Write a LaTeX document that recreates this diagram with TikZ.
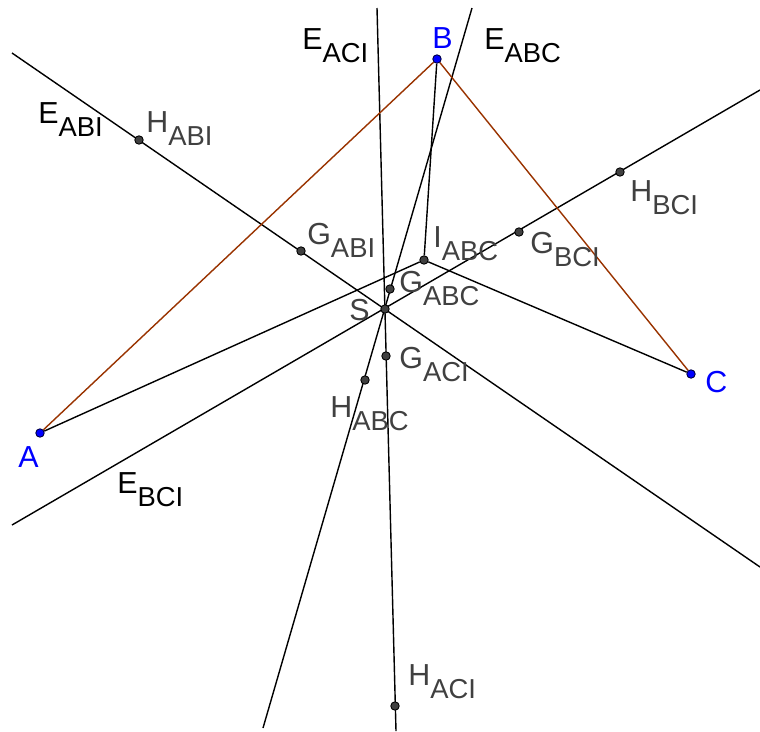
\documentclass[tikz,border=0pt]{standalone}
\usepackage{fontspec}
\setmainfont{Liberation Sans}
\usepackage{xcolor}
\usetikzlibrary{backgrounds}
\definecolor{geobrown}{HTML}{993300}
\definecolor{geoblue}{HTML}{0000FF}
\definecolor{geogray}{HTML}{404040}
\definecolor{geodark}{HTML}{000040}
\newcommand{\glab}[2]{#1\raisebox{-7.9pt}{\fontsize{15.6}{17}\selectfont #2}}

\begin{document}
\begin{tikzpicture}[
    x=0.02cm, y=-0.02cm,
    lbl/.style={anchor=base west, inner sep=0pt, font=\fontsize{17.3}{19}\selectfont},
    ptlbl/.style={lbl, text=geogray},
    vxlbl/.style={lbl, text=geoblue},
    pt/.style={circle, draw=black, fill=geogray, line width=0.5pt, inner sep=0pt, minimum size=4.8pt},
    vx/.style={pt, fill=geoblue, draw=geodark},
    ln/.style={line width=0.8pt, draw=black},
    tri/.style={line width=0.8pt, draw=geobrown}
]
    \useasboundingbox (0,0) rectangle (760,731);

    % Vertices
    \node (A) [vx] at (40,433) {};
    \node (B) [vx] at (437,59) {};
    \node (C) [vx] at (691,374) {};

    % Points
    \node (I)    [pt] at (424,260) {};
    \node (S)    [pt] at (385,309) {};
    \node (gabc) [pt] at (390,289) {};
    \node (gaci) [pt] at (386,356) {};
    \node (gabi) [pt] at (301,251) {};
    \node (gbci) [pt] at (519,232) {};
    \node (habc) [pt] at (365,380) {};
    \node (hbci) [pt] at (620,172) {};
    \node (habi) [pt] at (139,140) {};
    \node (haci) [pt] at (395,706) {};

    % Line ends
    \coordinate (eabi1) at (12,53);
    \coordinate (eabi2) at (760,567);
    \coordinate (eaci1) at (377,8);
    \coordinate (eaci2) at (396,731);
    \coordinate (eabc1) at (472,8);
    \coordinate (eabc2) at (263,728);
    \coordinate (ebci1) at (12,525);
    \coordinate (ebci2) at (760,90);

    % Lines
    \begin{scope}[on background layer]
        \draw [ln] (eabi1) -- (eabi2);
        \draw [ln] (eaci1) -- (eaci2);
        \draw [ln] (eabc1) -- (eabc2);
        \draw [ln] (ebci1) -- (ebci2);
        \draw [ln] (A) -- (I);
        \draw [ln] (B) -- (I);
        \draw [ln] (C) -- (I);
        \draw [tri] (A) -- (B) -- (C) -- cycle;
    \end{scope}

    % Labels
    \node (lA) [vxlbl] at (18,467) {A};
    \node (lB) [vxlbl] at (432,48) {B};
    \node (lC) [vxlbl] at (705,392) {C};
    \node (lS) [ptlbl] at (349,320) {S};
    \node (lI)    [ptlbl] at (433,247) {\glab{I}{ABC}};
    \node (lgabi) [ptlbl] at (307,244) {\glab{G}{ABI}};
    \node (lgabc) [ptlbl] at (399,292) {\glab{G}{ABC}};
    \node (lgaci) [ptlbl] at (399,368) {\glab{G}{ACI}};
    \node (lgbci) [ptlbl] at (530,253) {\glab{G}{BCI}};
    \node (lhabi) [ptlbl] at (146,132) {\glab{H}{ABI}};
    \node (lhabc) [ptlbl] at (330,417) {\glab{H}{ABC}};
    \node (lhbci) [ptlbl] at (630,201) {\glab{H}{BCI}};
    \node (lhaci) [ptlbl] at (408,685) {\glab{H}{ACI}};
    \node (leabi) [lbl] at (38,123) {\glab{E}{ABI}};
    \node (leaci) [lbl] at (302,49) {\glab{E}{ACI}};
    \node (leabc) [lbl] at (484,49) {\glab{E}{ABC}};
    \node (lebci) [lbl] at (117,493) {\glab{E}{BCI}};
\end{tikzpicture}
\end{document}
